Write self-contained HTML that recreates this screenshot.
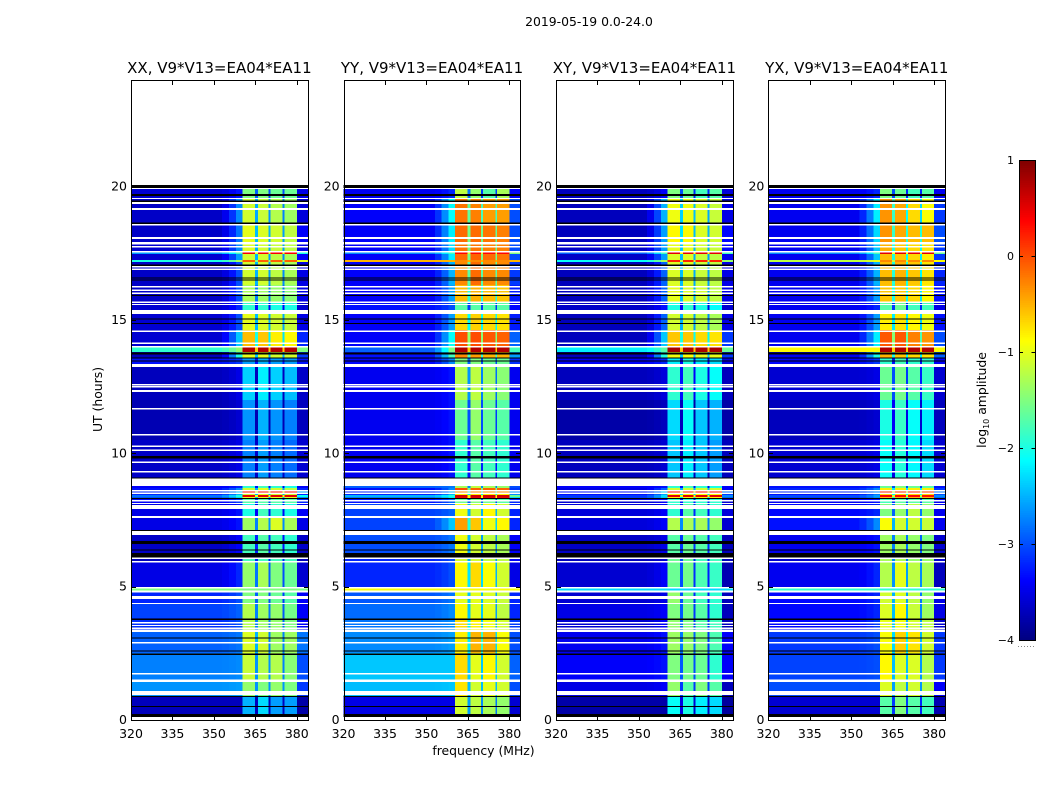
<!DOCTYPE html>
<html lang="en">
<head>
<meta charset="utf-8">
<title>2019-05-19 0.0-24.0</title>
<style>
html,body{margin:0;padding:0;background:#fff;}
svg{display:block;font-family:"DejaVu Sans","Liberation Sans",sans-serif;fill:#000;}
</style>
</head>
<body>
<svg id="chart" width="1050" height="800" viewBox="0 0 1050 800" xmlns="http://www.w3.org/2000/svg">
<text x="589" y="26" font-size="12.4" text-anchor="middle">2019-05-19 0.0-24.0</text>
<text x="483.5" y="755" font-size="12.4" text-anchor="middle">frequency (MHz)</text>
<text transform="translate(102,399.5) rotate(-90)" font-size="12.4" text-anchor="middle">UT (hours)</text>
<text transform="translate(986,400) rotate(-90)" font-size="12.4" text-anchor="middle">log<tspan font-size="8" dy="3">10</tspan><tspan dy="-3"> amplitude</tspan></text>
</svg>
<script>
const panelNames = ['XX', 'YY', 'XY', 'YX'];
const xTicks = [320, 335, 350, 365, 380];
const yTicks = [0, 5, 10, 15, 20];
const colorTicks = [1, 0, -1, -2, -3, -4];
const colorTickLabels = ['1', '0', '\u22121', '\u22122', '\u22123', '\u22124'];

// Frequency channel edges (MHz): background, roll-off, four sub-bands with gaps, upper edge
const channelEdges = [320, 353, 355.5, 358, 360.4, 364.8, 365.9, 369.8, 370.5, 374.9, 375.6, 380, 384];

// Time epochs (UT hours, top to bottom)
const epochEdges = [19.95, 19.54, 18.64, 17.93, 17.55, 17.48, 17.25, 17.18, 16.31, 15.68, 15.23, 14.63, 13.99, 13.80, 13.58, 13.35, 12.00, 10.50, 9.08, 8.70, 8.63, 8.51, 8.44, 8.36, 8.29, 8.14, 7.58, 7.13, 6.26, 5.93, 4.99, 4.80, 4.39, 3.83, 3.30, 2.51, 1.50, 1.09, 0.86, 0.11];

// log10 amplitude per epoch: background, roll-off, band 1-4, upper edge
const ampXX = [
[-3.6,-3.3,-1.5,-1.5,-1.6,-1.6,-3.5],
[-3.65,-2.7,-1.1,-1.15,-1.25,-1.35,-3.55],
[-3.65,-2.8,-1.0,-1.05,-1.1,-1.2,-3.4],
[-3.6,-2.7,-1.05,-1.1,-1.15,-1.2,-3.5],
[-2.6,-1.8,0.4,0.4,0.4,0.4,-2.0],
[-3.6,-2.6,-1.1,-1.1,-1.2,-1.3,-3.4],
[-2.0,-1.3,-0.1,-0.1,-0.1,-0.1,-1.0],
[-3.65,-3.0,-1.1,-1.1,-1.2,-1.3,-3.5],
[-3.65,-3.0,-1.3,-1.35,-1.4,-1.45,-3.5],
[-3.6,-3.2,-1.9,-1.9,-2.0,-2.0,-3.6],
[-3.6,-3.0,-1.0,-1.05,-1.1,-1.15,-3.5],
[-3.6,-2.4,-0.55,-0.6,-0.8,-0.85,-3.2],
[-1.9,-1.4,0.75,0.75,0.75,0.75,-1.5],
[-3.7,-2.0,-1.0,-1.0,-1.1,-1.1,-3.1],
[-3.3,-3.1,-2.6,-2.5,-2.6,-2.6,-3.3],
[-3.7,-3.5,-2.35,-2.2,-2.35,-2.45,-3.65],
[-3.75,-3.6,-2.65,-2.5,-2.65,-2.75,-3.7],
[-3.65,-3.5,-2.75,-2.6,-2.75,-2.85,-3.6],
[-3.4,-3.2,-1.9,-1.8,-1.9,-2.0,-3.4],
[-3.3,-2.7,-1.1,-1.0,-1.1,-1.2,-3.2],
[-3.2,-2.4,0.3,0.3,0.3,0.3,-2.6],
[-3.2,-2.5,-1.1,-1.0,-1.1,-1.1,-3.2],
[-2.8,-2.0,0.5,0.5,0.5,0.5,-2.1],
[-3.0,-2.3,-1.0,-1.0,-1.0,-1.0,-2.7],
[-3.4,-3.1,-1.7,-1.7,-1.7,-1.7,-3.2],
[-3.5,-3.3,-2.0,-1.8,-1.9,-2.0,-3.4],
[-3.5,-3.3,-1.35,-1.25,-1.05,-1.3,-3.5],
[-3.65,-3.4,-1.8,-1.7,-1.8,-1.9,-3.65],
[-3.7,-3.6,-1.8,-1.8,-1.8,-1.8,-3.7],
[-3.5,-3.2,-1.4,-1.3,-1.5,-1.6,-3.6],
[-1.5,-1.5,-1.5,-1.5,-1.5,-1.5,-1.5],
[-3.2,-3.0,-1.5,-1.5,-1.6,-1.7,-3.4],
[-3.05,-2.9,-1.25,-1.35,-1.4,-1.55,-3.4],
[-3.15,-3.0,-1.25,-1.35,-1.4,-1.5,-3.4],
[-2.9,-2.8,-1.05,-1.1,-1.35,-1.35,-2.8],
[-2.75,-2.7,-1.15,-1.25,-1.25,-1.45,-3.0],
[-2.65,-2.6,-1.4,-1.5,-1.4,-1.5,-3.1],
[-2.65,-2.6,-1.4,-1.5,-1.4,-1.5,-3.1],
[-3.7,-3.7,-2.5,-2.3,-2.6,-2.6,-3.8]
];
const ampYY = [
[-3.45,-3.2,-1.2,-1.4,-1.7,-1.3,-3.4],
[-3.4,-2.1,-0.2,-0.25,-0.4,-0.4,-3.0],
[-3.4,-2.2,-0.15,-0.15,-0.2,-0.25,-3.0],
[-3.4,-2.3,-0.2,-0.2,-0.25,-0.25,-3.0],
[-2.7,-1.8,0.35,0.35,0.35,0.35,-1.5],
[-3.4,-2.2,-0.15,-0.1,-0.15,-0.2,-3.0],
[-0.5,-0.5,-0.3,-0.3,-0.3,-0.3,-0.5],
[-3.4,-2.5,-0.3,-0.15,-0.3,-0.3,-3.1],
[-3.4,-2.6,-0.55,-0.5,-0.55,-0.6,-3.25],
[-3.3,-3.0,-1.7,-1.7,-1.7,-1.7,-3.35],
[-3.4,-2.6,-0.7,-0.65,-0.7,-0.75,-3.25],
[-3.4,-2.1,0.0,0.0,-0.05,-0.1,-2.9],
[-2.9,-1.5,0.75,0.75,0.75,0.75,-1.8],
[-3.3,-1.8,-0.3,-0.4,-0.5,-0.5,-2.6],
[-3.35,-2.7,-1.5,-1.5,-1.6,-1.6,-3.15],
[-3.45,-3.3,-1.25,-1.2,-1.35,-1.45,-3.45],
[-3.45,-3.3,-1.6,-1.4,-1.6,-1.7,-3.45],
[-3.45,-3.3,-1.9,-1.7,-1.8,-1.9,-3.45],
[-2.9,-2.8,-1.3,-1.2,-1.3,-1.4,-3.0],
[-3.3,-2.7,0.0,-0.1,-0.1,-0.1,-3.1],
[-3.2,-2.5,-0.3,-0.3,-0.3,-0.3,-2.6],
[-3.2,-2.5,-0.8,-0.8,-0.8,-0.8,-2.7],
[-2.5,-2.0,0.6,0.6,0.6,0.6,-1.6],
[-2.8,-2.2,0.5,0.5,0.5,0.5,-2.3],
[-3.3,-2.9,-1.6,-1.5,-1.6,-1.7,-3.2],
[-3.05,-2.9,-0.95,-1.1,-0.85,-1.1,-3.2],
[-3.05,-2.4,-0.4,-0.6,-0.95,-0.85,-3.2],
[-3.0,-2.8,-0.95,-1.1,-1.2,-1.3,-3.4],
[-3.2,-3.0,-1.1,-1.1,-1.2,-1.2,-3.4],
[-3.2,-3.0,-0.85,-0.7,-0.9,-1.1,-3.5],
[-0.9,-0.9,-0.9,-0.9,-0.9,-0.9,-0.9],
[-2.95,-2.8,-1.0,-1.0,-1.05,-1.15,-3.2],
[-2.85,-2.7,-0.85,-1.0,-1.0,-1.2,-3.2],
[-2.8,-2.7,-0.7,-0.8,-0.95,-1.1,-3.1],
[-2.7,-2.6,-0.8,-0.5,-0.5,-0.9,-3.0],
[-2.4,-2.4,-0.7,-1.0,-0.85,-1.1,-2.9],
[-2.45,-2.4,-0.75,-1.1,-1.0,-1.1,-3.0],
[-2.45,-2.4,-0.75,-1.1,-1.0,-1.1,-3.0],
[-3.5,-3.5,-1.1,-1.2,-1.3,-1.4,-3.6]
];
const ampXY = [
[-3.7,-3.4,-1.5,-1.6,-1.8,-1.7,-3.55],
[-3.7,-2.5,-0.95,-0.95,-1.05,-1.15,-3.5],
[-3.7,-2.6,-0.85,-0.85,-1.05,-1.1,-3.35],
[-3.65,-2.6,-1.0,-1.0,-1.1,-1.15,-3.35],
[-2.9,-1.8,0.5,0.5,0.5,0.5,-1.8],
[-3.65,-2.6,-1.05,-1.05,-1.15,-1.2,-3.45],
[-2.1,-1.3,0.2,0.2,0.2,0.2,-1.4],
[-3.7,-2.9,-1.05,-1.05,-1.15,-1.2,-3.5],
[-3.7,-2.9,-1.0,-1.05,-1.1,-1.2,-3.5],
[-3.65,-3.3,-2.0,-1.9,-2.0,-2.1,-3.6],
[-3.7,-2.9,-1.1,-1.1,-1.2,-1.3,-3.5],
[-3.7,-2.4,-0.6,-0.6,-0.7,-0.75,-3.1],
[-2.2,-1.7,0.8,0.8,0.8,0.8,-1.6],
[-3.7,-2.0,-0.95,-0.9,-1.0,-1.0,-3.1],
[-3.4,-3.2,-2.2,-2.0,-2.2,-2.3,-3.5],
[-3.7,-3.55,-1.9,-1.8,-2.0,-2.1,-3.7],
[-3.8,-3.7,-2.3,-2.1,-2.4,-2.5,-3.8],
[-3.7,-3.6,-2.4,-2.2,-2.4,-2.6,-3.7],
[-3.4,-3.3,-1.9,-1.8,-1.9,-2.0,-3.4],
[-3.5,-2.9,-1.1,-1.1,-1.1,-1.1,-3.4],
[-3.3,-2.4,0.3,0.3,0.3,0.3,-2.8],
[-3.3,-2.6,-0.9,-0.9,-0.9,-0.9,-3.1],
[-3.1,-2.3,0.5,0.5,0.5,0.5,-2.7],
[-3.1,-2.4,-0.8,-0.8,-0.8,-0.8,-2.9],
[-3.6,-3.4,-1.9,-1.9,-1.9,-1.9,-3.6],
[-3.55,-3.4,-1.9,-1.7,-1.8,-1.9,-3.55],
[-3.55,-3.4,-1.25,-1.3,-1.3,-1.4,-3.6],
[-3.65,-3.5,-1.7,-1.6,-1.7,-1.8,-3.7],
[-3.7,-3.6,-1.6,-1.6,-1.8,-1.8,-3.7],
[-3.6,-3.4,-1.6,-1.55,-1.75,-1.85,-3.75],
[-2.3,-2.3,-2.3,-2.3,-2.3,-2.3,-2.3],
[-3.6,-3.5,-1.4,-1.6,-1.8,-1.9,-3.7],
[-3.5,-3.4,-1.5,-1.55,-1.7,-1.9,-3.7],
[-3.6,-3.4,-1.4,-1.5,-1.7,-1.8,-3.7],
[-3.45,-3.3,-1.35,-1.4,-1.5,-1.75,-3.4],
[-3.4,-3.3,-1.5,-1.55,-1.6,-1.9,-3.4],
[-3.5,-3.4,-1.4,-1.7,-1.5,-1.7,-3.7],
[-3.5,-3.4,-1.4,-1.7,-1.5,-1.7,-3.7],
[-3.8,-3.8,-2.1,-2.0,-2.2,-2.3,-3.85]
];
const ampYX = [
[-3.45,-3.2,-1.5,-1.6,-1.8,-1.7,-3.45],
[-3.45,-2.2,-0.35,-0.45,-0.7,-0.9,-3.1],
[-3.45,-2.3,-0.35,-0.45,-0.55,-0.55,-3.0],
[-3.45,-2.4,-0.5,-0.6,-0.7,-0.75,-3.1],
[-2.7,-1.8,0.5,0.5,0.5,0.5,-1.6],
[-3.45,-2.4,-0.55,-0.6,-0.7,-0.8,-3.1],
[-1.2,-1.0,-0.3,-0.3,-0.3,-0.3,-0.9],
[-3.45,-2.5,-0.55,-0.5,-0.6,-0.75,-3.2],
[-3.45,-2.6,-0.6,-0.6,-0.7,-0.85,-3.3],
[-3.45,-3.2,-1.7,-1.6,-1.8,-1.8,-3.5],
[-3.45,-2.6,-0.8,-0.75,-0.85,-0.95,-3.3],
[-3.45,-2.2,-0.05,-0.05,-0.25,-0.35,-3.0],
[-0.85,-0.9,0.75,0.75,0.75,0.75,-0.9],
[-3.45,-2.0,-0.5,-0.6,-0.7,-0.75,-2.9],
[-3.35,-3.1,-1.9,-1.8,-1.9,-1.9,-3.4],
[-3.6,-3.5,-1.6,-1.55,-1.7,-1.85,-3.6],
[-3.7,-3.6,-2.0,-1.85,-2.1,-2.2,-3.7],
[-3.6,-3.5,-2.1,-1.95,-2.15,-2.3,-3.6],
[-3.3,-3.1,-1.6,-1.5,-1.6,-1.7,-3.3],
[-3.2,-2.7,-0.8,-0.8,-0.8,-0.8,-3.1],
[-3.2,-2.7,0.2,0.2,0.2,0.1,-2.8],
[-3.3,-2.8,-0.7,-0.7,-0.7,-0.7,-3.0],
[-3.0,-2.6,0.4,0.35,0.35,0.3,-2.7],
[-3.1,-2.7,-0.5,-0.5,-0.5,-0.5,-2.9],
[-3.45,-3.3,-1.8,-1.7,-1.7,-1.7,-3.45],
[-3.35,-3.2,-1.5,-1.4,-1.2,-1.4,-3.45],
[-3.3,-2.7,-0.9,-1.1,-1.1,-1.15,-3.45],
[-3.45,-3.3,-1.35,-1.3,-1.4,-1.5,-3.6],
[-3.6,-3.5,-1.3,-1.3,-1.4,-1.4,-3.6],
[-3.45,-3.2,-1.25,-1.0,-1.2,-1.3,-3.7],
[-1.9,-1.9,-1.9,-1.9,-1.9,-1.9,-1.9],
[-3.35,-3.2,-1.1,-1.05,-1.2,-1.4,-3.5],
[-3.35,-3.2,-1.05,-0.85,-1.15,-1.35,-3.5],
[-3.35,-3.1,-1.0,-0.95,-1.1,-1.2,-3.6],
[-3.1,-3.0,-0.9,-0.65,-0.75,-1.1,-3.1],
[-3.05,-3.0,-0.85,-1.05,-1.05,-1.25,-3.1],
[-3.0,-3.0,-1.05,-1.2,-1.1,-1.25,-3.4],
[-3.0,-3.0,-1.05,-1.2,-1.1,-1.25,-3.4],
[-3.6,-3.6,-1.7,-1.5,-1.7,-1.8,-3.75]
];
const panelAmps = [ampXX, ampYY, ampXY, ampYX];

// Integrations with no data (white): start hour, end hour
const blankRows = [
[19.95,19.91],[19.575,19.54],[19.425,19.35],[19.2,19.125],[18.6,18.54],[18.11,18.04],[17.925,17.83],[17.775,17.72],[17.59,17.53],[17.025,16.97],[16.93,16.875],[16.275,16.22],[16.14,16.09],[16.03,15.975],[15.69,15.64],[15.6,15.56],[15.375,15.225],[14.61,14.55],[14.16,14.1],[14.025,13.97],[13.35,13.24],[12.6,12.54],[12.525,12.47],[12.375,12.3],[11.7,11.64],[10.725,10.67],[10.29,10.24],[10.14,10.09],[9.69,9.64],[9.34,9.28],[9.06,8.775],[8.625,8.57],[8.53,8.475],[8.25,8.19],[8.14,8.1],[8.06,7.91],[7.65,7.575],[7.09,6.94],[6.09,6.04],[5.96,5.91],[4.99,4.94],[4.85,4.78],[4.65,4.54],[4.39,4.35],[3.675,3.62],[3.56,3.52],[3.47,3.41],[3.39,3.3],[2.925,2.87],[1.76,1.71],[1.52,1.43],[1.09,0.94]
];
// Flagged integrations (black): start hour, end hour
const flaggedRows = [
[20.06,19.95],[19.725,19.65],[19.48,19.425],[18.66,18.6],[17.08,17.025],[16.59,16.56],[16.52,16.48],[15.94,15.9],[15.06,15.02],[14.89,14.85],[13.78,13.71],[13.59,13.56],[13.48,13.44],[9.9,9.81],[9.09,9.06],[8.325,8.29],[7.125,7.09],[6.71,6.6],[6.39,6.36],[6.26,6.09],[3.81,3.75],[3.09,3.06],[2.61,2.57],[2.49,2.44],[0.9,0.86],[0.525,0.49],[0.225,0.11]
];

const svg = document.getElementById('chart');
const NS = 'http://www.w3.org/2000/svg';
const panelLefts = [131, 343.6, 556, 768.4];
const plotW = 176.8, plotTop = 80, plotBottom = 720;
const freqMin = 320, freqMax = 384, hourMin = 0, hourMax = 24;
const ampMin = -4, ampMax = 1, barX = 1019, barW = 16, barTop = 160, barBottom = 640;

function xScale(panel, f) { return panelLefts[panel] + (f - freqMin) / (freqMax - freqMin) * plotW; }
function yScale(h) { return plotBottom - (h - hourMin) / (hourMax - hourMin) * (plotBottom - plotTop); }
function cbScale(v) { return barBottom - (v - ampMin) / (ampMax - ampMin) * (barBottom - barTop); }
function clamp(v) { return Math.max(0, Math.min(1, v)); }
function jet(v) {
  const t = clamp((v - ampMin) / (ampMax - ampMin));
  const r = clamp(1.5 - Math.abs(4 * t - 3));
  const g = clamp(1.5 - Math.abs(4 * t - 2));
  const b = clamp(1.5 - Math.abs(4 * t - 1));
  return 'rgb(' + Math.round(r * 255) + ',' + Math.round(g * 255) + ',' + Math.round(b * 255) + ')';
}
function rect(parent, x, y, w, h, fill) {
  const el = document.createElementNS(NS, 'rect');
  el.setAttribute('x', x.toFixed(2));
  el.setAttribute('y', y.toFixed(2));
  el.setAttribute('width', w.toFixed(2));
  el.setAttribute('height', h.toFixed(2));
  el.setAttribute('fill', fill);
  el.setAttribute('shape-rendering', 'crispEdges');
  parent.appendChild(el);
  return el;
}
function line(parent, x1, y1, x2, y2) {
  const el = document.createElementNS(NS, 'line');
  el.setAttribute('x1', x1);
  el.setAttribute('y1', y1);
  el.setAttribute('x2', x2);
  el.setAttribute('y2', y2);
  el.setAttribute('stroke', '#000');
  el.setAttribute('stroke-width', '1');
  el.setAttribute('shape-rendering', 'crispEdges');
  parent.appendChild(el);
  return el;
}
function label(parent, x, y, str, size, anchor) {
  const el = document.createElementNS(NS, 'text');
  el.setAttribute('x', x);
  el.setAttribute('y', y);
  el.setAttribute('font-size', size);
  el.setAttribute('text-anchor', anchor);
  el.textContent = str;
  parent.appendChild(el);
  return el;
}
// Value of a frequency channel from its epoch row
function channelValue(row, c) {
  const bg = row[0], ramp = row[1], edge = row[6];
  const bands = [row[2], row[3], row[4], row[5]];
  if (c === 0) return bg;
  if (c === 1) return bg * 0.8 + ramp * 0.2;
  if (c === 2) return bg * 0.45 + ramp * 0.55;
  if (c === 3) return ramp;
  if (c === 4) return bands[0];
  if (c === 5) return Math.max(bg, Math.min(bands[0], bands[1]) - 1.4);
  if (c === 6) return bands[1];
  if (c === 7) return Math.max(bg, Math.min(bands[1], bands[2]) - 1.4);
  if (c === 8) return bands[2];
  if (c === 9) return Math.max(bg, Math.min(bands[2], bands[3]) - 1.4);
  if (c === 10) return bands[3];
  return edge;
}

panelNames.forEach(function (pol, p) {
  const g = document.createElementNS(NS, 'g');
  
  
  svg.appendChild(g);

  const rows = panelAmps[p];
  for (let r = 0; r < rows.length; r++) {
    const yTop = yScale(epochEdges[r]);
    const yBot = yScale(epochEdges[r + 1]);
    for (let c = 0; c < channelEdges.length - 1; c++) {
      const x0 = xScale(p, channelEdges[c]);
      const x1 = xScale(p, channelEdges[c + 1]);
      const cell = rect(g, x0, yTop, x1 - x0, yBot - yTop, jet(channelValue(rows[r], c)));
      
      
    }
  }
  blankRows.forEach(function (b) {
    const el = rect(g, panelLefts[p], yScale(b[0]), plotW, Math.max(1, yScale(b[1]) - yScale(b[0])), '#fff');
    
    
  });
  flaggedRows.forEach(function (b) {
    const el = rect(g, panelLefts[p], yScale(b[0]), plotW, Math.max(1, yScale(b[1]) - yScale(b[0])), '#000');
    
    
  });

  const L = Math.round(panelLefts[p]) + 0.5;
  const R = Math.round(panelLefts[p] + plotW) + 0.5;
  const frame = document.createElementNS(NS, 'rect');
  frame.setAttribute('x', L);
  frame.setAttribute('y', plotTop + 0.5);
  frame.setAttribute('width', R - L);
  frame.setAttribute('height', plotBottom - plotTop);
  frame.setAttribute('fill', 'none');
  frame.setAttribute('stroke', '#000');
  frame.setAttribute('shape-rendering', 'crispEdges');
  
  
  g.appendChild(frame);

  xTicks.forEach(function (f) {
    const tx = Math.round(xScale(p, f)) + 0.5;
    const t1 = line(g, tx, plotBottom + 0.5, tx, plotBottom - 4);
    
    
    const t2 = line(g, tx, plotTop + 0.5, tx, plotTop + 5);
    
    
    const lab = label(g, xScale(p, f), plotBottom + 18, String(f), 12.5, 'middle');
    
    
  });
  yTicks.forEach(function (h) {
    const ty = Math.round(yScale(h)) + 0.5;
    const t1 = line(g, L, ty, L + 4.5, ty);
    
    
    const t2 = line(g, R - 4.5, ty, R, ty);
    
    
    const lab = label(g, panelLefts[p] - 4, yScale(h) + 4, String(h), 12.5, 'end');
    
    
  });
  const title = label(g, panelLefts[p] + plotW / 2, 73, pol + ', V9*V13=EA04*EA11', 15, 'middle');
  
  
});

const cb = document.createElementNS(NS, 'g');


svg.appendChild(cb);
const cbSteps = 256;
for (let i = 0; i < cbSteps; i++) {
  const v0 = ampMin + (ampMax - ampMin) * i / cbSteps;
  const v1 = ampMin + (ampMax - ampMin) * (i + 1) / cbSteps;
  const seg = rect(cb, barX, cbScale(v1), barW, cbScale(v0) - cbScale(v1) + 0.5, jet((v0 + v1) / 2));
  
  
}
const cbFrame = document.createElementNS(NS, 'rect');
cbFrame.setAttribute('x', barX + 0.5);
cbFrame.setAttribute('y', barTop + 0.5);
cbFrame.setAttribute('width', barW);
cbFrame.setAttribute('height', barBottom - barTop);
cbFrame.setAttribute('fill', 'none');
cbFrame.setAttribute('stroke', '#000');
cbFrame.setAttribute('shape-rendering', 'crispEdges');


cb.appendChild(cbFrame);
colorTicks.forEach(function (v, i) {
  const ty = Math.round(cbScale(v)) + 0.5;
  const a = line(cb, barX, ty, barX + 4, ty);
  
  
  const b = line(cb, barX + barW - 3.5, ty, barX + barW + 0.5, ty);
  
  
  const lab = label(cb, barX - 5, cbScale(v) + 4, colorTickLabels[i], 11, 'end');
  
  
});
const dots = line(cb, barX - 1, 646.5, barX + barW, 646.5);
dots.setAttribute('stroke', '#888');
dots.setAttribute('stroke-dasharray', '1 2');


</script>
</body>
</html>
